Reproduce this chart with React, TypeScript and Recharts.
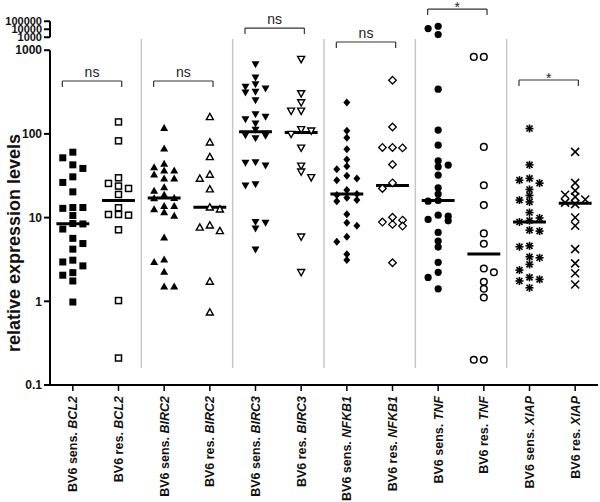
import React from 'react';
import { ScatterChart, Scatter, XAxis, YAxis, ReferenceLine } from 'recharts';

// categories
const GENES = ['BCL2', 'BIRC2', 'BIRC3', 'NFKB1', 'TNF', 'XIAP'];
const GROUPS = ['BV6 sens.', 'BV6 res.'];
const SIGNIFICANCE = ['ns', 'ns', 'ns', 'ns', '*', '*'];

// relative expression levels
const BCL2_SENS = [60.5, 51.8, 42.7, 38.7, 30.7, 26.3, 20.3, 13.2, 12.9, 13.2, 10.6, 8.5, 8.4, 7.3, 5.65, 4.9, 4.2, 3.1, 2.95, 2.65, 2.05, 2.2, 1.75, 0.98];
const BCL2_RES = [139, 82.6, 29.9, 25.6, 23.8, 22.3, 18.9, 13.1, 10.9, 10.7, 10.9, 7.15, 1.02, 0.21];
const BIRC2_SENS = [118, 67, 43.9, 40.1, 36.6, 36.6, 32.8, 29.4, 29.4, 23.1, 20.9, 18.8, 17.2, 17.0, 12.6, 13.8, 13.8, 11.6, 10.5, 5.8, 2.95, 3.15, 2.25, 1.5, 1.5];
const BIRC2_RES = [160, 79.7, 53.2, 32.8, 29.4, 21.9, 13.3, 12.6, 8.1, 6.95, 7.65, 1.73, 0.74];
const BIRC3_SENS = [681, 472, 365, 349, 393, 318, 313, 253, 172, 150, 160, 133, 100.7, 111.8, 89, 96.6, 95.3, 45.1, 42, 46, 24.2, 25.1, 8.67, 7.43, 8.84, 4.17];
const BIRC3_RES = [781, 304, 237, 188, 188, 109, 99.3, 113, 68.1, 41.5, 35.2, 30.2, 5.9, 2.22];
const NFKB1_SENS = [237, 109, 89.8, 65.8, 49.5, 37.9, 41.2, 28, 29.4, 31.6, 17.3, 21.3, 18.6, 19.1, 15.7, 16.2, 11, 7.98, 8.67, 5.9, 5.14, 3.11, 3.66];
const NFKB1_RES = [438, 121, 68.9, 68.1, 68.9, 43.2, 26, 22.3, 9.33, 8.3, 7.92, 10.1, 8.84, 2.89];
const TNF_SENS = [23700, 12200, 2170, 342, 111, 73.4, 47.7, 42.4, 40.4, 32.2, 22.7, 19.1, 15.7, 16.0, 10.7, 9.5, 9.16, 10.4, 6.66, 5.24, 4.44, 2.92, 2.22, 1.93, 1.41];
const TNF_RES = [832, 832, 70, 24.4, 14.1, 6.48, 4.87, 2.47, 2.22, 1.71, 1.41, 1.11, 0.2, 0.2];
const XIAP_SENS = [116, 42.7, 25.8, 28, 29.4, 21.7, 18.4, 15.4, 16.2, 11.5, 9.9, 8.85, 9.2, 6.9, 7.09, 4.6, 4.48, 3.4, 2.76, 3.31, 2.36, 1.83, 1.93, 1.75, 1.45];
const XIAP_RES = [61, 26, 21, 18.8, 17.7, 16.5, 15.1, 14.5, 10.05, 7.98, 4.2, 2.84, 2.16, 1.59];

const SERIES = [BCL2_SENS, BCL2_RES, BIRC2_SENS, BIRC2_RES, BIRC3_SENS, BIRC3_RES, NFKB1_SENS, NFKB1_RES, TNF_SENS, TNF_RES, XIAP_SENS, XIAP_RES];

const MAIN_TICKS = [0.1, 1, 10, 100, 1000];
const BREAK_TICKS = [1000, 10000, 100000];

// axis geometry (log10 units, with a compressed segment above the break)
const Y_MIN = -1;
const Y_MAX = 3.6;
const BREAK_BASE = 3.155;
const BREAK_DECADE = 0.0955;
const breakAxis = (v: number) => BREAK_BASE + (Math.log10(v) - 3) * BREAK_DECADE;
const toAxis = (v: number) => (v <= 1000 ? Math.log10(v) : breakAxis(v));

const JITTER_STEP = 0.22;
const MIN_GAP = 0.07;
const MEDIAN_HALF = 0.36;
const BRACKET_LEVELS = [2.632, 2.632, 3.265, 3.098, 3.492, 2.644];
const BRACKET_DROP = 0.072;
const SEP_TOP = 3.134;
const SEP_BOTTOM = -0.797;

const MARKERS = ['fsquare', 'osquare', 'fup', 'oup', 'fdown', 'odown', 'fdiamond', 'odiamond', 'fcircle', 'ocircle', 'asterisk', 'cross'];

const FONT = '"Liberation Sans", Arial, sans-serif';

// simple beeswarm: spread points sideways when they would overlap
function swarm(ys: number[]): number[] {
    const order = ys.map((_, i) => i).sort((a, b) => ys[b] - ys[a]);
    const offs = new Array(ys.length).fill(0);
    const placed: { y: number; o: number }[] = [];
    let side = -1;
    const free = (y: number, o: number) =>
        placed.every(p => Math.abs(p.o - o) >= 0.7 || Math.abs(p.y - y) >= MIN_GAP);
    for (const i of order) {
        const y = ys[i];
        let o = 0;
        if (!free(y, 0)) {
            const cands = [side, -side, side * 0.5, -side * 0.5];
            o = cands.find(c => free(y, c)) ?? side;
            side = -side;
        }
        offs[i] = o;
        placed.push({ y, o });
    }
    return offs;
}

const median = (values: number[]) => {
    const s = [...values].sort((a, b) => a - b);
    const m = Math.floor(s.length / 2);
    return s.length % 2 ? s[m] : (s[m - 1] + s[m]) / 2;
};

const pointData = SERIES.map((values, i) => {
    const ys = values.map(toAxis);
    const offs = swarm(ys);
    return values.map((v, j) => ({ x: i + 0.5 + offs[j] * JITTER_STEP, y: ys[j], v }));
});

const medianData = SERIES.map((values, i) => ({ x: i + 0.5, y: toAxis(median(values)) }));

const bracketData = GENES.map((_, k) => ({
    x1: 2 * k + 0.27,
    x2: 2 * k + 1.57,
    level: BRACKET_LEVELS[k],
    label: SIGNIFICANCE[k],
}));

const yTicks = [
    ...MAIN_TICKS.map(v => ({ pos: toAxis(v), label: String(v), small: false })),
    ...BREAK_TICKS.map(v => ({ pos: breakAxis(v), label: String(v), small: true })),
];

const Marker = (props: any) => {
    const { cx, cy, kind } = props;
    const k = '#000';
    switch (kind) {
        case 'fsquare':
            return <rect x={cx - 3.5} y={cy - 3.5} width={7} height={7} fill={k} />;
        case 'osquare':
            return <rect x={cx - 3} y={cy - 3} width={6} height={6} fill="#fff" stroke={k} strokeWidth={1.5} />;
        case 'fup':
            return <polygon points={`${cx},${cy - 4} ${cx + 4},${cy + 3} ${cx - 4},${cy + 3}`} fill={k} />;
        case 'oup':
            return <polygon points={`${cx},${cy - 3.5} ${cx + 3.5},${cy + 2.8} ${cx - 3.5},${cy + 2.8}`} fill="#fff" stroke={k} strokeWidth={1.4} />;
        case 'fdown':
            return <polygon points={`${cx - 4},${cy - 3} ${cx + 4},${cy - 3} ${cx},${cy + 4}`} fill={k} />;
        case 'odown':
            return <polygon points={`${cx - 3.5},${cy - 2.8} ${cx + 3.5},${cy - 2.8} ${cx},${cy + 3.5}`} fill="#fff" stroke={k} strokeWidth={1.4} />;
        case 'fdiamond':
            return <polygon points={`${cx},${cy - 4} ${cx + 3.5},${cy} ${cx},${cy + 4} ${cx - 3.5},${cy}`} fill={k} />;
        case 'odiamond':
            return <polygon points={`${cx},${cy - 3.8} ${cx + 3.8},${cy} ${cx},${cy + 3.8} ${cx - 3.8},${cy}`} fill="#fff" stroke={k} strokeWidth={1.3} />;
        case 'fcircle':
            return <circle cx={cx} cy={cy} r={3.6} fill={k} />;
        case 'ocircle':
            return <circle cx={cx} cy={cy} r={3.3} fill="#fff" stroke={k} strokeWidth={1.5} />;
        case 'asterisk':
            return (
                <g stroke={k} strokeWidth={1.6}>
                    <line x1={cx - 4} y1={cy} x2={cx + 4} y2={cy} />
                    <line x1={cx} y1={cy - 4} x2={cx} y2={cy + 4} />
                    <line x1={cx - 3} y1={cy - 3} x2={cx + 3} y2={cy + 3} />
                    <line x1={cx - 3} y1={cy + 3} x2={cx + 3} y2={cy - 3} />
                </g>
            );
        default:
            return (
                <g stroke={k} strokeWidth={1.5}>
                    <line x1={cx - 4} y1={cy - 4} x2={cx + 4} y2={cy + 4} />
                    <line x1={cx - 4} y1={cy + 4} x2={cx + 4} y2={cy - 4} />
                </g>
            );
    }
};

const CategoryTick = (props: any) => {
    const { x, y, payload } = props;
    const i = Math.floor(payload.value);
    return (
        <g transform={`translate(${x},${y})`}>
            <text transform="rotate(-90)" x={-3} y={0} dy="0.35em" textAnchor="end" fontSize={12.5} fontWeight="bold" fontFamily={FONT} fill="#111">
                {GROUPS[i % 2]}{' '}
                <tspan fontStyle="italic">{GENES[Math.floor(i / 2)]}</tspan>
            </text>
        </g>
    );
};

const ValueTick = (props: any) => {
    const { x, y, payload } = props;
    const t = yTicks.find(tk => Math.abs(tk.pos - payload.value) < 1e-6);
    return (
        <text x={x} y={y} dy="0.35em" textAnchor="end" fontSize={t && t.small ? 11 : 12} fontWeight="bold" fontFamily={FONT} fill="#111">
            {t ? t.label : ''}
        </text>
    );
};

const BracketLabel = (props: any) => {
    const { cx, cy } = props;
    const label = props.payload?.label ?? props.label;
    const lift = label === '*' ? -3 : 4;
    return (
        <text x={cx} y={cy - lift} textAnchor="middle" fontSize={14} fontFamily={FONT} fill="#222">
            {label}
        </text>
    );
};

export default function App() {
    return (
        <div style={{ position: 'absolute', left: 0, top: 0, width: 600, height: 502, background: '#fff' }}>
            <ScatterChart width={600} height={502} margin={{ top: 0, right: 2, bottom: 0, left: 0 }}>
                <XAxis
                    type="number"
                    dataKey="x"
                    domain={[0, 12]}
                    ticks={SERIES.map((_, i) => i + 0.5)}
                    interval={0}
                    height={117}
                    tick={<CategoryTick />}
                    tickSize={6}
                    tickLine={{ stroke: '#000', strokeWidth: 1.5 }}
                    axisLine={{ stroke: '#000', strokeWidth: 2 }}
                    allowDataOverflow
                />
                <YAxis
                    type="number"
                    dataKey="y"
                    domain={[Y_MIN, Y_MAX]}
                    ticks={yTicks.map(t => t.pos)}
                    interval={0}
                    width={50}
                    tick={<ValueTick />}
                    tickSize={6}
                    tickLine={{ stroke: '#000', strokeWidth: 2 }}
                    axisLine={false}
                    allowDataOverflow
                />
                {/* grey separators between genes */}
                {GENES.slice(1).map((g, k) => (
                    <ReferenceLine
                        key={`sep-${g}`}
                        segment={[{ x: 2 * (k + 1), y: SEP_BOTTOM }, { x: 2 * (k + 1), y: SEP_TOP }]}
                        stroke="#c8c8c8"
                        strokeWidth={1.5}
                        ifOverflow="visible"
                    />
                ))}
                {/* broken y axis */}
                <ReferenceLine segment={[{ x: 0, y: Y_MIN }, { x: 0, y: 3 }]} stroke="#000" strokeWidth={2} ifOverflow="visible" />
                <ReferenceLine segment={[{ x: 0, y: breakAxis(1000) }, { x: 0, y: breakAxis(100000) }]} stroke="#000" strokeWidth={2} ifOverflow="visible" />
                {/* significance brackets */}
                {bracketData.map((b, k) => (
                    <ReferenceLine key={`bh-${k}`} segment={[{ x: b.x1, y: b.level }, { x: b.x2, y: b.level }]} stroke="#333" strokeWidth={1.2} ifOverflow="visible" />
                ))}
                {bracketData.map((b, k) => (
                    <ReferenceLine key={`bl-${k}`} segment={[{ x: b.x1, y: b.level }, { x: b.x1, y: b.level - BRACKET_DROP }]} stroke="#333" strokeWidth={1.2} ifOverflow="visible" />
                ))}
                {bracketData.map((b, k) => (
                    <ReferenceLine key={`br-${k}`} segment={[{ x: b.x2, y: b.level }, { x: b.x2, y: b.level - BRACKET_DROP }]} stroke="#333" strokeWidth={1.2} ifOverflow="visible" />
                ))}
                <Scatter
                    data={bracketData.map(b => ({ x: (b.x1 + b.x2) / 2, y: b.level, label: b.label }))}
                    shape={(p: any) => <BracketLabel {...p} />}
                    isAnimationActive={false}
                />
                {pointData.map((data, i) => (
                    <Scatter
                        key={`s-${i}`}
                        data={data}
                        shape={(p: any) => <Marker {...p} kind={MARKERS[i]} />}
                        isAnimationActive={false}
                    />
                ))}
                {/* medians */}
                {medianData.map((m, i) => (
                    <ReferenceLine
                        key={`med-${i}`}
                        segment={[{ x: m.x - MEDIAN_HALF, y: m.y }, { x: m.x + MEDIAN_HALF, y: m.y }]}
                        stroke="#000"
                        strokeWidth={3}
                        ifOverflow="visible"
                    />
                ))}
            </ScatterChart>
            <svg width={600} height={502} style={{ position: 'absolute', left: 0, top: 0, pointerEvents: 'none' }}>
                <text
                    transform="translate(14,243) rotate(-90)"
                    textAnchor="middle"
                    dy="0.35em"
                    fontSize={18}
                    fontWeight="bold"
                    fontFamily={FONT}
                    fill="#111"
                >
                    relative expression levels
                </text>
            </svg>
        </div>
    );
}
